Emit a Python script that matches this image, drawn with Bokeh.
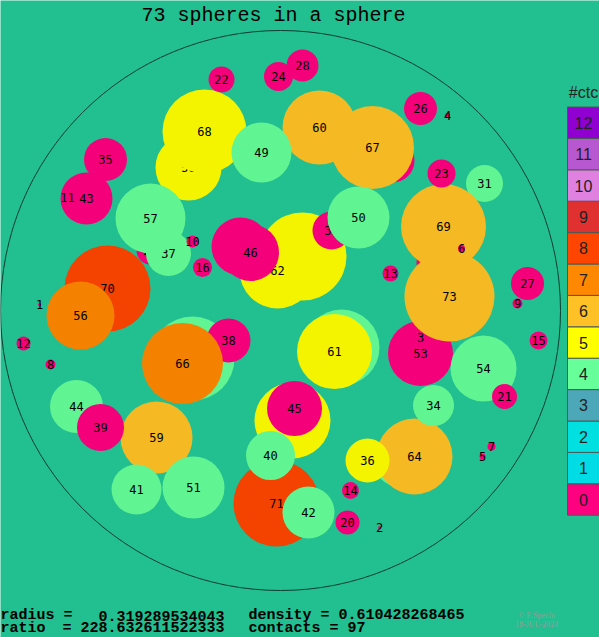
from bokeh.plotting import figure
from bokeh.models import ColumnDataSource, Label
from bokeh.embed import file_html
from bokeh.resources import INLINE
from bokeh.core.properties import value

# ---- data (container radius = 280 units, centre at 0,0) ----
labels = [1, 2, 3, 4, 5, 6, 7, 8, 9, 10, 11, 12, 13, 14, 15, 16, 19, 20, 21, 22,
          23, 24, 25, 26, 27, 28, 31, 32, 33, 34, 35, 36, 37, 38, 39, 40, 41, 42,
          43, 44, 45, 46, 47, 48, 49, 50, 51, 53, 54, 55, 56, 57, 58, 59, 60, 61,
          62, 63, 64, 65, 66, 67, 68, 69, 70, 71, 72, 73]
xs = [-241, 99, 140, 167, 202, 181, 211, -230, 237, -88, -213, -257, 110, 70, 258, -78, 148, 67, 224, -59,
      161, -2, -130, 140, 247, 22, 204, 51, 112, 153, -175, 87, -112, -52, -180, -10, -144, 28,
      -194, -204, 14, -30, -40, 118, -19, 78, -87, 140, 203, 12, -200, -130, -92, -124, 39, 54,
      -3, 61, 134, -88, -98, 92, -76, 163, -173, -4, 22, 169]
ys = [6, -217, -27, 195, -146, 62, -136, -54, 7, 69, 113, -33, 37, -180, -30, 43, 48, -212, -86, 231,
      137, 234, 60, 202, 27, 245, 127, 80, 150, -95, 151, -150, 57, -30, -117, -145, -179, -202,
      112, -96, -98, 58, 64, -152, 158, 93, -177, -43, -58, -110, -5, 92, 143, -127, 183, -41,
      40, -37, -146, -48, -53, 163, 179, 84, 22, -193, 54, 14]
radii = [1.5, 1.5, 2, 2.5, 3, 3.5, 4, 5, 5, 6, 6, 7, 8, 8.5, 9, 9.5, 12, 12, 12.5, 13,
         14, 14.5, 14, 16.5, 16.5, 16, 18.5, 19, 22, 20.5, 21.5, 22, 22.5, 22, 23.5, 24.5, 25, 26,
         26, 26.5, 27.5, 28.5, 29, 24, 30, 31, 31, 32.5, 33, 38, 34, 35, 33, 36, 37, 37.5,
         38, 38, 38, 42, 40.5, 41.5, 42, 42.5, 43, 43, 44, 45]
contacts = [0, 0, 0, 0, 0, 0, 0, 0, 0, 0, 0, 0, 0, 0, 0, 0, 0, 0, 0, 0,
            0, 0, 0, 0, 0, 0, 4, 0, 0, 4, 0, 5, 4, 0, 0, 4, 4, 4,
            0, 4, 0, 0, 0, 4, 4, 4, 4, 0, 4, 5, 7, 4, 5, 6, 6, 5,
            5, 4, 6, 4, 7, 6, 5, 6, 8, 8, 5, 6]
# drawing order, back to front
draw_order = [1, 2, 4, 5, 7, 8, 9, 12, 13, 14, 15, 16, 20, 22, 24, 26, 27, 28, 31,
              53, 3, 54, 21, 19, 69, 6, 73, 23,
              25, 37, 10, 58, 68, 57, 60, 49, 33, 67,
              35, 43, 11, 70, 56,
              47, 72, 62, 46, 32, 50,
              65, 38, 66, 63, 61,
              44, 59, 39, 41, 51,
              55, 45, 71, 40, 42,
              48, 64, 36, 34]

ctc_levels = [0, 1, 2, 3, 4, 5, 6, 7, 8, 9, 10, 11, 12]
ctc_colors = ["#ff0080", "#00dce6", "#00e0e0", "#4ca8b8", "#66ff99", "#ffff00", "#ffc125",
              "#ff8800", "#ff4500", "#e03030", "#e080e0", "#b858d0", "#9000d0"]

title_text = "73 spheres in a sphere"
radius_val = "0.319289534043"
density_val = "0.610428268465"
ratio_val = "228.632611522333"
contacts_val = "97"

BG = "#22bf90"


def shade(hexcol, f):
    r, g, b = (int(hexcol[i:i + 2], 16) for i in (1, 3, 5))
    return "#%02x%02x%02x" % (int(r * f), int(g * f), int(b * f))


p = figure(width=599, height=637, x_range=(-280, 319), y_range=(-327, 310),
           output_backend="svg", toolbar_location=None, min_border=0,
           x_axis_location=None, y_axis_location=None,
           background_fill_color=BG, border_fill_color=BG, outline_line_color=None)
p.grid.visible = False
p.title.visible = False

# container sphere outline
p.circle(x=[0], y=[0], radius=280, fill_color=None, line_color="#0e3d32", line_width=1)

label_font = value("DejaVu Sans Mono")
for lab in draw_order:
    i = labels.index(lab)
    src = ColumnDataSource(dict(x=[xs[i]], y=[ys[i]], r=[radii[i]],
                                c=[shade(ctc_colors[contacts[i]], 0.96)], t=[str(lab)]))
    p.circle("x", "y", radius="r", source=src, fill_color="c", line_color=None)
    p.text("x", "y", text="t", source=src, text_align="center", text_baseline="middle",
           text_font=label_font, text_font_size="12px", text_color="#000000")

# colour key
n = len(ctc_levels)
key_top = 310 - 106.5
key_h = 31.4
key_src = ColumnDataSource(dict(
    x=[306] * n,
    y=[key_top - key_h * (12 - k) - key_h / 2 for k in ctc_levels],
    c=ctc_colors,
    t=[str(k) for k in ctc_levels],
    tx=[303] * n,
))
p.rect("x", "y", width=38, height=key_h, source=key_src, fill_color="c",
       line_color="#4a5a55", line_width=1)
p.text("tx", "y", text="t", source=key_src, text_align="center", text_baseline="middle",
       text_font=value("Liberation Sans"), text_font_size="16px", text_color="#222222")
p.add_layout(Label(x=303, y=310 - 92, text="#ctc", text_align="center", text_baseline="middle",
                   text_font="Liberation Sans", text_font_size="16px", text_color="#222222"))

# title
p.add_layout(Label(x=-7, y=310 - 15, text=title_text, text_align="center",
                   text_baseline="alphabetic", text_font="Liberation Mono",
                   text_font_size="20px", text_color="#000000"))

# bottom info text
mono = dict(text_font="Liberation Mono", text_font_size="15px", text_font_style="bold",
            text_color="#000000", text_baseline="middle", text_align="left")
y1 = 310 - 615
y2 = 310 - 628
p.add_layout(Label(x=-280, y=y1, text="radius =", **mono))
p.add_layout(Label(x=-280 + 98, y=y1, text=radius_val, **mono))
p.add_layout(Label(x=-280 + 248, y=y1, text="density = " + density_val, **mono))
p.add_layout(Label(x=-280, y=y2, text="ratio", **mono))
p.add_layout(Label(x=-280 + 62, y=y2, text="= " + ratio_val, **mono))
p.add_layout(Label(x=-280 + 248, y=y2, text="contacts = " + contacts_val, **mono))

# copyright
p.add_layout(Label(x=256, y=310 - 615, text="© E.Specht", text_align="center",
                   text_baseline="middle", text_font="Liberation Serif",
                   text_font_size="8px", text_color="#8f9f99"))
p.add_layout(Label(x=256, y=310 - 624, text="18-JUL-2024", text_align="center",
                   text_baseline="middle", text_font="Liberation Serif",
                   text_font_size="8px", text_color="#8f9f99"))

open("out.html", "w").write(file_html(p, INLINE))
